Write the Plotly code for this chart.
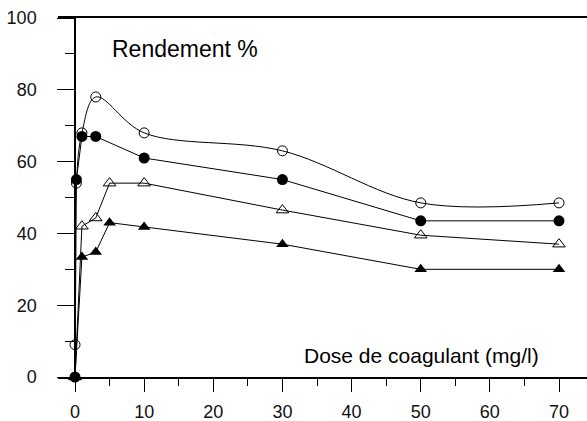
import plotly.graph_objects as go

# Data
dose_circles = [0, 0.2, 1, 3, 10, 30, 50, 70]
open_circle = [9, 54, 68, 78, 68, 63, 48.5, 48.5]
filled_circle = [0, 55, 67, 67, 61, 55, 43.5, 43.5]

dose_triangles = [0, 1, 3, 5, 10, 30, 50, 70]
open_triangle = [0, 42, 44.3, 54, 54, 46.5, 39.5, 37]
filled_triangle = [0, 33.4, 34.8, 43, 41.8, 37, 30, 30]

x_ticks = [0, 10, 20, 30, 40, 50, 60, 70]
y_ticks = [0, 20, 40, 60, 80, 100]

FONT = "Liberation Sans, Arial, sans-serif"
W, H = 587, 421
ML, MR, MT, MB = 58, 0, 18, 44
PW = W - ML - MR
PH = H - MT - MB
X0 = -2.46
X1 = 74.05

fig = go.Figure()

fig.add_trace(go.Scatter(
    x=dose_triangles, y=filled_triangle, mode="lines+markers",
    line=dict(color="black", width=1),
    marker=dict(symbol="triangle-up", size=11, color="black"),
    cliponaxis=False, showlegend=False))
fig.add_trace(go.Scatter(
    x=dose_triangles, y=open_triangle, mode="lines+markers",
    line=dict(color="black", width=1),
    marker=dict(symbol="triangle-up-open", size=11, color="black", line=dict(width=1)),
    cliponaxis=False, showlegend=False))
fig.add_trace(go.Scatter(
    x=dose_circles, y=filled_circle, mode="lines+markers",
    line=dict(color="black", width=1),
    marker=dict(symbol="circle", size=11, color="black"),
    cliponaxis=False, showlegend=False))
fig.add_trace(go.Scatter(
    x=dose_circles, y=open_circle, mode="lines+markers",
    line=dict(color="black", width=1, shape="spline", smoothing=1),
    marker=dict(symbol="circle-open", size=10, color="black", line=dict(width=1)),
    cliponaxis=False, showlegend=False))

fig.update_layout(
    width=W, height=H,
    margin=dict(l=ML, r=MR, t=MT, b=MB, pad=0, autoexpand=False),
    paper_bgcolor="white", plot_bgcolor="white",
    font=dict(family=FONT, size=18, color="black"),
    xaxis=dict(
        range=[X0, X1], showgrid=False, zeroline=False, automargin=False,
        showline=True, linecolor="black", linewidth=1.5, mirror=True,
        tickmode="array", tickvals=x_ticks,
        ticks="outside", ticklen=13, tickwidth=1, tickcolor="black",
        minor=dict(dtick=5, tick0=0, ticks="outside", ticklen=7, tickwidth=1, tickcolor="black"),
        ticklabelstandoff=5,
        tickfont=dict(size=18, family=FONT, color="#111"),
    ),
    yaxis=dict(
        range=[0, 100], showgrid=False, zeroline=False, automargin=False,
        anchor="free", position=(0 - X0) / (X1 - X0),
        showline=True, linecolor="black", linewidth=1.5,
        tickmode="array", tickvals=y_ticks,
        ticks="outside", ticklen=17, tickwidth=1, tickcolor="black",
        minor=dict(dtick=10, tick0=0, ticks="outside", ticklen=9, tickwidth=1, tickcolor="black"),
        ticklabelstandoff=17,
        tickfont=dict(size=18, family=FONT, color="#111"),
    ),
    annotations=[
        dict(text="Rendement %", xref="paper", yref="paper",
             x=(110 - ML) / PW, y=(MT + PH - 49) / PH, xanchor="left", yanchor="middle",
             showarrow=False, font=dict(size=23, family=FONT, color="black")),
        dict(text="Dose de coagulant (mg/l)", xref="paper", yref="paper",
             x=(302 - ML) / PW, y=(MT + PH - 355) / PH, xanchor="left", yanchor="middle",
             showarrow=False, font=dict(size=21, family=FONT, color="black")),
    ],
)

fig.write_html(
    "out.html",
    config={"displayModeBar": False},
    post_script="document.body.style.margin='0';document.body.style.overflow='hidden';",
)
